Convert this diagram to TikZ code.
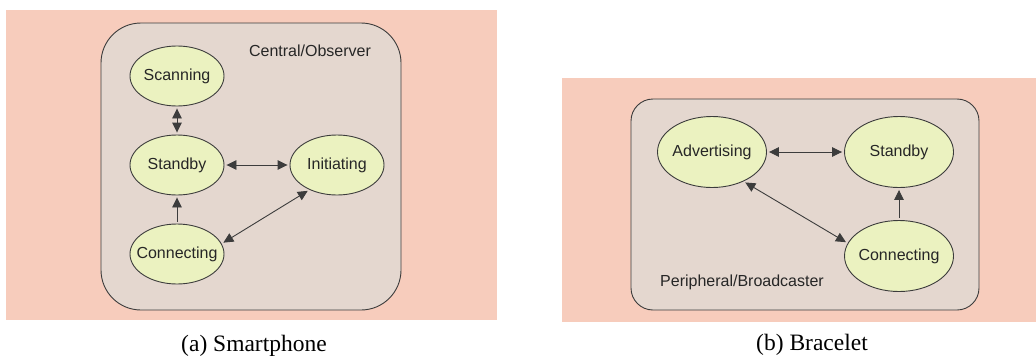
\documentclass[tikz,border=0pt]{standalone}
\usepackage{fontspec}
\setmainfont{Liberation Serif}
\setsansfont{Liberation Sans}
\usepackage{tikz}
\usetikzlibrary{arrows.meta}
\usetikzlibrary{shapes.geometric}

\definecolor{salmon}{RGB}{247,204,188}
\definecolor{roleback}{RGB}{228,215,207}
\definecolor{statefill}{RGB}{235,242,192}
\definecolor{edge}{RGB}{60,60,60}

\tikzset{
  state/.style={ellipse, draw=edge, line width=0.9pt, fill=statefill, inner xsep=-20pt, inner ysep=0pt,
    font=\sffamily\fontsize{16}{18}\selectfont, text=black!85},
  smallstate/.style={state, minimum width=94pt, minimum height=60pt},
  bigstate/.style={state, minimum width=109pt, minimum height=71pt},
  trans/.style={draw=edge, line width=0.9pt, >={Triangle[length=10pt,width=9.5pt]},
    shorten >=2pt, shorten <=2pt},
  rolelabel/.style={font=\sffamily\fontsize{16}{18}\selectfont, text=black!85},
  caption/.style={font=\fontsize{23.5}{26}\selectfont}
}

\begin{document}
\begin{tikzpicture}[x=1pt, y=-1pt]
\useasboundingbox (0,0) rectangle (1036,356);

% (a) smartphone side
\fill [salmon] (6,10) rectangle (497,320);
\draw [edge, line width=0.9pt, fill=roleback, rounded corners=40pt] (101,23) rectangle (401,310);
\node [rolelabel] (central) at (310,51) {Central/Observer};

\node [smallstate] (scanning) at (177,76) {Scanning};
\node [smallstate] (standbyA) at (177,165) {Standby};
\node [smallstate] (initiating) at (337,165) {Initiating};
\node [smallstate] (connectingA) at (177,254) {Connecting};

\draw [trans, <->] (scanning) -- (standbyA);
\draw [trans, <->] (standbyA) -- (initiating);
\draw [trans, ->] (connectingA) -- (standbyA);
\draw [trans, <->] (connectingA.13) -- (initiating.222);

\node [caption] (capA) at (254,346) {(a) Smartphone};

% (b) bracelet side
\fill [salmon] (562,78) rectangle (1036,322);
\draw [edge, line width=0.9pt, fill=roleback, rounded corners=22pt] (631,99) rectangle (979,310);
\node [rolelabel] (peripheral) at (742,282) {Peripheral/Broadcaster};

\node [bigstate] (advertising) at (712,152) {Advertising};
\node [bigstate] (standbyB) at (899,152) {Standby};
\node [bigstate] (connectingB) at (899,256) {Connecting};

\draw [trans, <->] (advertising) -- (standbyB);
\draw [trans, ->] (connectingB) -- (standbyB);
\draw [trans, <->] (advertising.317) -- (connectingB.166);

\node [caption] (capB) at (812,345) {(b) Bracelet};

\end{tikzpicture}
\end{document}
